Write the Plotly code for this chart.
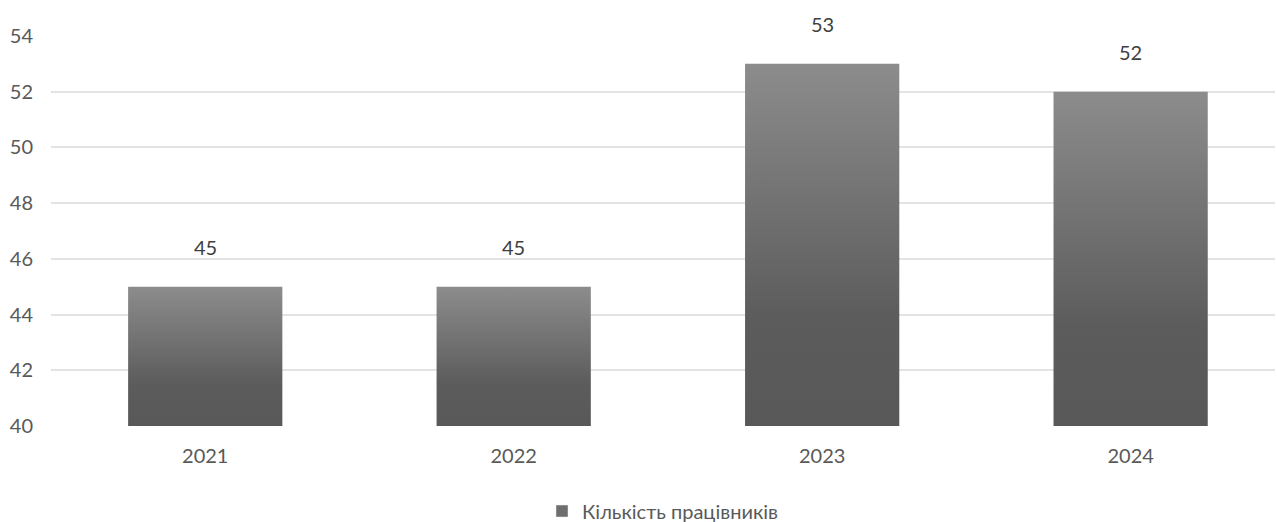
import plotly.graph_objects as go

years = ["2021", "2022", "2023", "2024"]
workers = [45, 45, 53, 52]
series_name = "Кількість працівників"
y_ticks = [40, 42, 44, 46, 48, 50, 52, 54]

BASE = 40
HALF = 0.25
FONT = "Lato"
grad = [[0, "#585858"], [0.3, "#5c5c5c"], [1, "#8c8c8c"]]

fig = go.Figure()

# bars drawn as gradient-filled shapes on the category axis
for i, (yr, v) in enumerate(zip(years, workers)):
    xs = [i - HALF, i + HALF, i + HALF, i - HALF, i - HALF]
    ys = [BASE, BASE, v, v, BASE]
    fig.add_trace(go.Scatter(
        x=xs, y=ys, mode="lines", fill="toself",
        line=dict(width=0, color="rgba(0,0,0,0)"),
        fillgradient=dict(type="vertical", colorscale=grad, start=BASE, stop=v),
        showlegend=False, hoverinfo="skip",
    ))
    fig.add_annotation(x=i, y=v, text=str(v), showarrow=False, yshift=40,
                       font=dict(family=FONT, size=20, color="#404040"))

# legend entry
fig.add_trace(go.Bar(x=[None], y=[None], name=series_name,
                     marker=dict(color="#6e6e6e"), showlegend=True))

fig.update_layout(
    width=1277, height=522,
    margin=dict(l=51, r=2, t=36, b=96, autoexpand=False),
    paper_bgcolor="white", plot_bgcolor="white",
    font=dict(family=FONT, size=20, color="#595959"),
    showlegend=True,
    legend=dict(orientation="h", x=0.5, xanchor="center", y=-0.218, yanchor="middle",
                font=dict(family=FONT, size=20, color="#595959"), itemwidth=30),
    xaxis=dict(
        tickmode="array", tickvals=list(range(len(years))), ticktext=years,
        range=[-0.5, 3.468], showgrid=False, zeroline=False, showline=False,
        ticks="", ticklabelstandoff=16, fixedrange=True, automargin=False,
    ),
    yaxis=dict(
        range=[40, 54], tickvals=y_ticks, showgrid=True, gridcolor="#e3e3e3",
        gridwidth=2, zeroline=False, showline=False, ticks="",
        ticklabelstandoff=17, fixedrange=True, automargin=False,
    ),
)

fig.write_html("out.html", config={"displayModeBar": False},
               post_script="document.body.style.margin='0';")
